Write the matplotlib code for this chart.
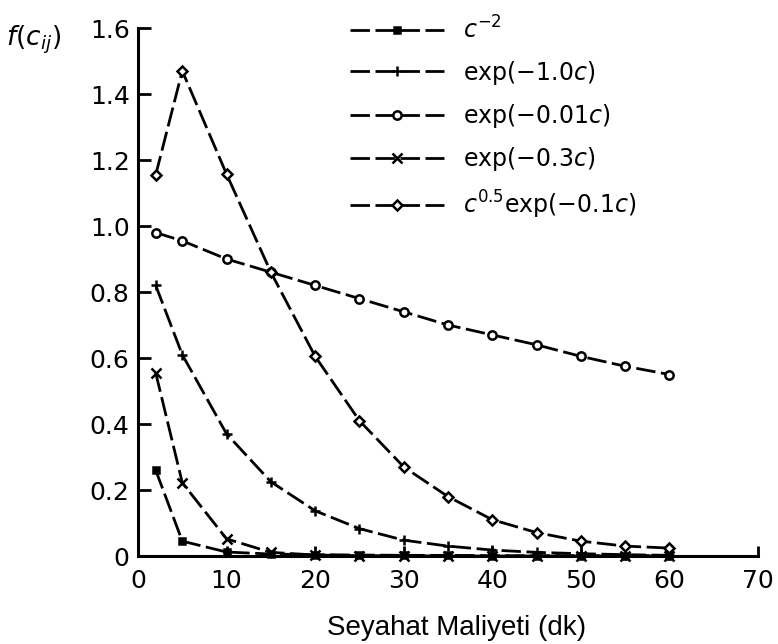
import numpy as np
import matplotlib
matplotlib.use('Agg')
import matplotlib.pyplot as plt

plt.rcParams['font.family'] = 'DejaVu Sans'
plt.rcParams['mathtext.fontset'] = 'dejavusans'

# ================= Data =================
cost = [2, 5, 10, 15, 20, 25, 30, 35, 40, 45, 50, 55, 60]

f_pow2 = [0.26, 0.045, 0.012, 0.006, 0.004, 0.003, 0.002, 0.002,
          0.001, 0.001, 0.001, 0.001, 0.001]
f_exp10 = [0.82, 0.61, 0.37, 0.225, 0.137, 0.083, 0.048, 0.030,
           0.018, 0.011, 0.007, 0.004, 0.002]
f_exp001 = [0.98, 0.955, 0.90, 0.86, 0.82, 0.78, 0.74, 0.70,
            0.67, 0.64, 0.605, 0.575, 0.55]
f_exp03 = [0.555, 0.222, 0.052, 0.011, 0.003, 0.001, 0.001, 0.0,
           0.0, 0.0, 0.0, 0.0, 0.0]
f_gamma = [1.155, 1.47, 1.157, 0.86, 0.605, 0.41, 0.27, 0.18,
           0.11, 0.071, 0.045, 0.030, 0.024]

series = [
    (f_pow2, r'$c^{-2}$', 's', 'black', 4),
    (f_exp10, r'exp(−1.0$c$)', '+', 'black', 7),
    (f_exp001, r'exp(−0.01$c$)', 'o', 'white', 6),
    (f_exp03, r'exp(−0.3$c$)', 'x', 'black', 6.5),
    (f_gamma, r'$c^{0.5}$exp(−0.1$c$)', 'D', 'white', 5.5),
]

x_ticks = [0, 10, 20, 30, 40, 50, 60, 70]
y_ticks = [0, 0.2, 0.4, 0.6, 0.8, 1.0, 1.2, 1.4, 1.6]
y_tick_labels = ['0', '0.2', '0.4', '0.6', '0.8', '1.0', '1.2', '1.4', '1.6']

# ================= Figure =================
fig = plt.figure(figsize=(7.78, 6.44), dpi=100)
ax = fig.add_axes([138 / 778, 1 - 556 / 644, 620 / 778, (556 - 28) / 644])

for vals, label, mk, face, ms in series:
    ax.plot(cost, vals, color='black', linewidth=2.0,
            linestyle=(0, (7, 2)), marker=mk, markersize=ms,
            markerfacecolor=face, markeredgecolor='black',
            markeredgewidth=1.8, label=label, clip_on=False)

ax.set_xlim(0, 70)
ax.set_ylim(0, 1.6)
ax.set_xticks(x_ticks)
ax.set_yticks(y_ticks)
ax.set_yticklabels(y_tick_labels)

for side in ('top', 'right'):
    ax.spines[side].set_visible(False)
for side in ('left', 'bottom'):
    ax.spines[side].set_linewidth(2.2)

ax.tick_params(axis='y', direction='in', length=9, width=2.0,
               labelsize=18, pad=6)
ax.tick_params(axis='x', direction='in', length=7, width=2.0,
               labelsize=18, pad=9)

fig.text(6 / 778, 1 - 40 / 644, r'$f(c_{ij})$', fontsize=19,
         ha='left', va='center')
fig.text(457 / 778, 1 - 628 / 644, 'Seyahat Maliyeti (dk)',
         fontsize=20, family='Liberation Sans', ha='center', va='center')

ax.legend(loc='upper left', bbox_to_anchor=(350 / 778, 1 - 16 / 644),
          bbox_transform=fig.transFigure, frameon=False, fontsize=17,
          handlelength=4.0, handletextpad=0.8, labelspacing=0.65,
          borderpad=0, borderaxespad=0)

fig.savefig('out.png', dpi=100)
